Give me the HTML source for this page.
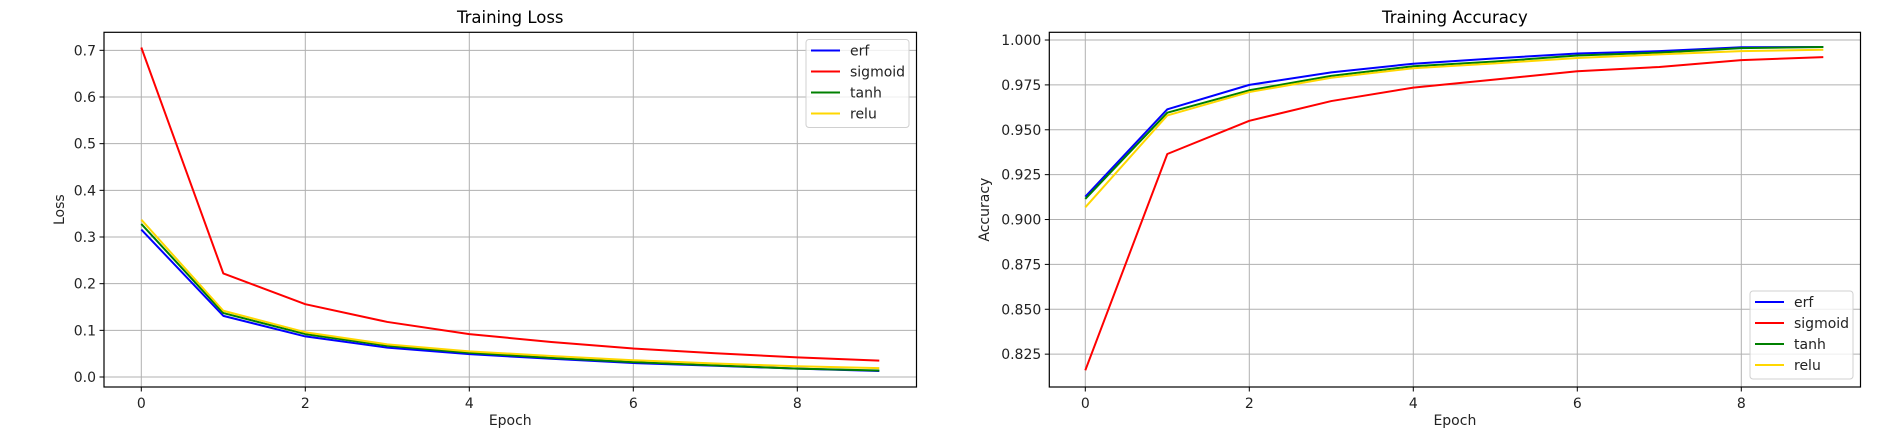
<!DOCTYPE html>
<html><head><meta charset="utf-8"><style>
html,body{margin:0;padding:0;background:#fff}
svg{display:block;font-family:"DejaVu Sans","Liberation Sans",sans-serif}
</style></head><body>
<svg id="c" width="1884" height="436" viewBox="0 0 1884 436"></svg>
<script>
const epochs=[0,1,2,3,4,5,6,7,8,9];
const seriesNames=["erf","sigmoid","tanh","relu"];
const seriesColors=["#0000ff","#ff0000","#008000","#ffd700"];
const lossErf=[0.316,0.131,0.087,0.063,0.049,0.039,0.030,0.024,0.018,0.013];
const lossSigmoid=[0.706,0.222,0.156,0.118,0.092,0.075,0.061,0.051,0.042,0.035];
const lossTanh=[0.328,0.137,0.092,0.067,0.052,0.041,0.032,0.025,0.018,0.014];
const lossRelu=[0.337,0.142,0.096,0.070,0.055,0.045,0.036,0.029,0.023,0.019];
const accErf=[0.9127,0.9614,0.975,0.982,0.9868,0.9898,0.9925,0.9938,0.996,0.9961];
const accSigmoid=[0.816,0.9365,0.955,0.966,0.9735,0.978,0.9826,0.985,0.9888,0.9905];
const accTanh=[0.9115,0.9595,0.972,0.980,0.9854,0.988,0.9914,0.993,0.9955,0.9961];
const accRelu=[0.9068,0.958,0.971,0.979,0.9843,0.987,0.990,0.992,0.9938,0.9946];
const xTicks=[0,2,4,6,8];
const lossTicks=[0.0,0.1,0.2,0.3,0.4,0.5,0.6,0.7];
const lossTickLabels=["0.0","0.1","0.2","0.3","0.4","0.5","0.6","0.7"];
const accTicks=[0.825,0.85,0.875,0.9,0.925,0.95,0.975,1.0];
const accTickLabels=["0.825","0.850","0.875","0.900","0.925","0.950","0.975","1.000"];

const NS="http://www.w3.org/2000/svg";
const svg=document.getElementById('c');
function mk(tag,attrs,parent){const e=document.createElementNS(NS,tag);for(const k in attrs)e.setAttribute(k,attrs[k]);(parent||svg).appendChild(e);return e;}

function chart(o){
  const g=mk('g',{});
  
  
  const L=o.left,R=o.right,T=32.3,B=387;
  const xs=v=>o.x0+v*82;
  const ys=v=>B-(v-o.ymin)/(o.ymax-o.ymin)*(B-T);
  // grid
  xTicks.forEach(t=>{const l=mk('line',{x1:xs(t),x2:xs(t),y1:T,y2:B,stroke:'#b0b0b0','stroke-width':1},g);
    });
  o.yt.forEach(t=>{const l=mk('line',{x1:L,x2:R,y1:ys(t),y2:ys(t),stroke:'#b0b0b0','stroke-width':1},g);
    });
  // ticks + labels
  xTicks.forEach(t=>{mk('line',{x1:xs(t),x2:xs(t),y1:B,y2:B+4.5,stroke:'#000'},g);
    const tx=mk('text',{x:xs(t),y:B+21,'font-size':14,'text-anchor':'middle',fill:'#222'},g);tx.textContent=t;
    });
  o.yt.forEach((t,i)=>{mk('line',{x1:L-4.5,x2:L,y1:ys(t),y2:ys(t),stroke:'#000'},g);
    const tx=mk('text',{x:L-8,y:ys(t)+5,'font-size':14,'text-anchor':'end',fill:'#222'},g);tx.textContent=o.ytl[i];
    });
  // series
  o.data.forEach((d,i)=>{
    const p=mk('polyline',{points:d.map((v,j)=>xs(epochs[j])+','+ys(v)).join(' '),fill:'none',stroke:seriesColors[i],'stroke-width':2,'stroke-linejoin':'round'},g);
    
  });
  const fr=mk('rect',{x:L,y:T,width:R-L,height:B-T,fill:'none',stroke:'#000','stroke-width':1.2},g);
  
  const ti=mk('text',{x:(L+R)/2,y:23,'font-size':16.5,'text-anchor':'middle',fill:'#000'},g);ti.textContent=o.title;
  
  const xl=mk('text',{x:(L+R)/2,y:425,'font-size':14,'text-anchor':'middle',fill:'#222'},g);xl.textContent='Epoch';
  
  const yl=mk('text',{x:0,y:0,'font-size':14,'text-anchor':'middle',fill:'#222',transform:`translate(${o.ylx},${(T+B)/2}) rotate(-90)`},g);yl.textContent=o.ylabel;
  
  // legend
  const lg=mk('g',{},g);
  
  mk('rect',{x:o.lgx,y:o.lgy,width:103,height:88,rx:3,fill:'#fff','fill-opacity':0.8,stroke:'#d0d0d0'},lg);
  seriesNames.forEach((n,i)=>{const y=o.lgy+11+i*21;
    mk('line',{x1:o.lgx+5,x2:o.lgx+34,y1:y,y2:y,stroke:seriesColors[i],'stroke-width':2},lg);
    const t=mk('text',{x:o.lgx+44,y:y+5,'font-size':14,fill:'#222'},lg);t.textContent=n;
    });
}
chart({name:'loss-chart',left:104,right:916.5,x0:141.3,ymin:-0.0214,ymax:0.7386,yt:lossTicks,ytl:lossTickLabels,
  data:[lossErf,lossSigmoid,lossTanh,lossRelu],title:'Training Loss',ylabel:'Loss',ylx:64,lgx:806,lgy:39.5});
chart({name:'accuracy-chart',left:1049.3,right:1860.5,x0:1085.3,ymin:0.8067,ymax:1.0043,yt:accTicks,ytl:accTickLabels,
  data:[accErf,accSigmoid,accTanh,accRelu],title:'Training Accuracy',ylabel:'Accuracy',ylx:989,lgx:1750,lgy:291});
</script>
</body></html>
